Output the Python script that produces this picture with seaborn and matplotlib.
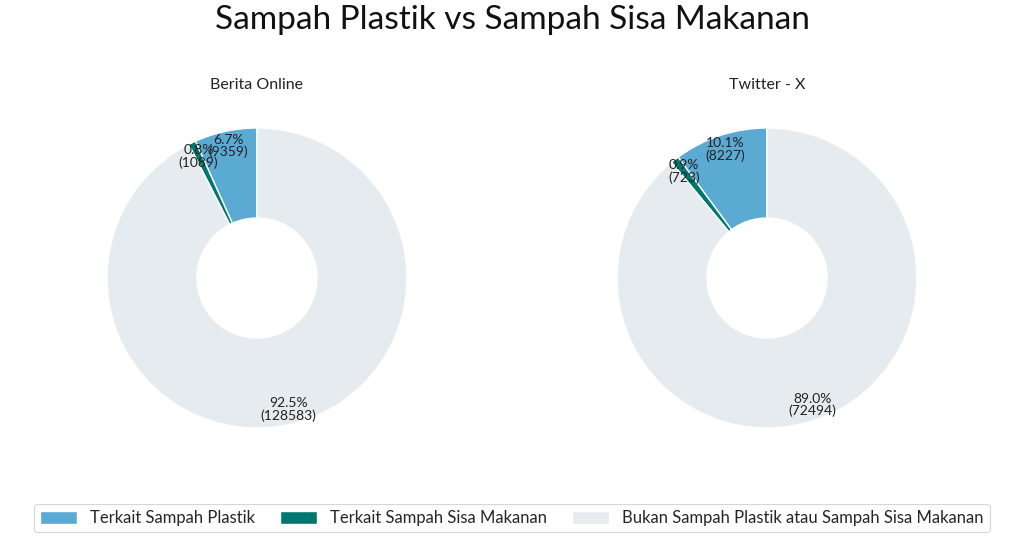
import matplotlib
matplotlib.use("Agg")
import matplotlib.pyplot as plt
import seaborn as sns

sns.set_theme(style="white")
plt.rcParams['font.family'] = ['Lato', 'DejaVu Sans']

categories = ["Terkait Sampah Plastik", "Terkait Sampah Sisa Makanan",
              "Bukan Sampah Plastik atau Sampah Sisa Makanan"]
berita_values = [9359, 1089, 128583]
twitter_values = [8227, 723, 72494]
panel_titles = ["Berita Online", "Twitter - X"]
colors = sns.color_palette(["#5BAAD3", "#00786F", "#E6EBEF"])

fig = plt.figure(figsize=(10.24, 5.41), dpi=100)
W, H = 1024, 541
R = 150  # pixel radius
centers = [(257, 278), (767, 278)]

def make_fmt(vals):
    tot = sum(vals)
    def f(p):
        n = int(round(p * tot / 100.0))
        return f"{p:.1f}%\n({n})"
    return f

handles = None
for (cx, cy), vals, title in zip(centers, [berita_values, twitter_values], panel_titles):
    half = 1.25 * R
    ax = fig.add_axes([(cx - half) / W, (H - cy - half) / H, 2 * half / W, 2 * half / H])
    wedges, texts, autotexts = ax.pie(vals, colors=colors, startangle=90, counterclock=True,
                                      autopct=make_fmt(vals), pctdistance=0.9,
                                      wedgeprops=dict(width=0.6, edgecolor="white", linewidth=1),
                                      textprops=dict(fontsize=10, color="#222222"))
    for t in autotexts:
        t.set_linespacing(1.0)
    ax.set_xlim(-1.25, 1.25)
    ax.set_ylim(-1.25, 1.25)
    ax.set_aspect("equal")
    ax.axis("off")
    fig.text(cx / W, 1 - 85 / H, title, ha="center", va="center", fontsize=11.5, color="#222222")
    handles = wedges

fig.text(0.5, 1 - 20 / H, "Sampah Plastik vs Sampah Sisa Makanan", ha="center", va="center",
         fontsize=24, color="#111111")

leg = fig.legend(handles, categories, loc="center", bbox_to_anchor=(512 / W, 1 - 518 / H),
                 ncol=3, frameon=True, fontsize=12, handlelength=2.2, handleheight=0.8,
                 handletextpad=0.8, columnspacing=1.5, borderpad=0.35, borderaxespad=0,
                 fancybox=True)
leg.get_frame().set_edgecolor("#CCCCCC")
leg.get_frame().set_linewidth(0.8)

fig.savefig("out.png", dpi=100)
